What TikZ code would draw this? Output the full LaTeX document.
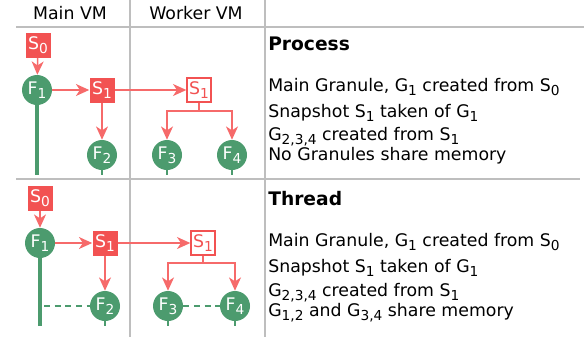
\documentclass[tikz,border=0pt]{standalone}
\usepackage{fontspec}
\setmainfont{DejaVu Sans}
\usetikzlibrary{arrows.meta}
\definecolor{snapred}{RGB}{242,82,82}
\definecolor{linkred}{RGB}{246,106,106}
\definecolor{gran}{RGB}{76,155,110}
\definecolor{rulegray}{RGB}{190,190,190}
% lowered subscript in the running text font
\newcommand\lo[1]{\raisebox{-0.45ex}{\fontsize{10.3}{10}\selectfont #1}}

\begin{document}
\begin{tikzpicture}[x=0.75pt,y=-0.75pt,
  font=\fontsize{13}{16}\selectfont,
  snapbox/.style={fill=snapred, text=white, minimum size=18.75pt, inner sep=0pt},
  snapout/.style={draw=snapred, line width=1.5pt, fill=white, text=snapred,
                  minimum size=17.5pt, inner sep=0pt},
  gnode/.style={circle, fill=gran, text=white, minimum size=22.5pt, inner sep=0pt},
  link/.style={draw=linkred, line width=1.1pt,
               -{Stealth[length=10pt,width=9pt,inset=3pt]}},
  wire/.style={draw=linkred, line width=1.1pt},
  trunk/.style={draw=gran, line width=3pt},
  stub/.style={draw=gran, line width=2.2pt},
  shared/.style={draw=gran, line width=1.6pt, dash pattern=on 4.5pt off 3.5pt},
  grid/.style={draw=rulegray, line width=1.1pt},
  txt/.style={anchor=base west, inner sep=0pt},
  head/.style={anchor=base, inner sep=0pt},
  title/.style={txt, font=\fontsize{14}{16}\selectfont\bfseries},
]
\useasboundingbox (0,0) rectangle (584,337);

% table rules
\draw[grid] (130,0) -- (130,337);
\draw[grid] (265,0) -- (265,337);
\draw[grid] (16,27) -- (584,27);
\draw[grid] (16,179) -- (580,179);

% column headers
\node[head] (hmain) at (70,19) {Main VM};
\node[head] (hwork) at (196,19) {Worker VM};

% ---------------- process model ----------------
\node[snapbox] (ps0) at (38,45) {S\lo{0}};
\node[gnode]   (pf1) at (37,90) {F\lo{1}};
\node[snapbox] (ps1) at (102,90) {S\lo{1}};
\node[gnode]   (pf2) at (102,155) {F\lo{2}};
\node[snapout] (pw1) at (199,90) {S\lo{1}};
\node[gnode]   (pf3) at (167,155) {F\lo{3}};
\node[gnode]   (pf4) at (232,155) {F\lo{4}};
\coordinate (pend1) at (37,175);
\coordinate (pend2) at (102,175);
\coordinate (pend3) at (167,175);
\coordinate (pend4) at (232,175);
\coordinate (pfork) at (199,111);

\draw[trunk] (pf1.south) -- (pend1);
\draw[stub] (pf2.south) -- (pend2);
\draw[stub] (pf3.south) -- (pend3);
\draw[stub] (pf4.south) -- (pend4);
\draw[link] (ps0) -- (pf1);
\draw[link] (pf1) -- (ps1);
\draw[link] (ps1) -- (pf2);
\draw[link] (ps1) -- (pw1);
\draw[wire] (pw1.south) -- (pfork);
\draw[link] (pfork) -| (pf3.north);
\draw[link] (pfork) -| (pf4.north);

\node[title] (ptitle) at (268,50) {Process};
\node[txt] (pl1) at (268,91) {Main Granule, G\lo{1} created from S\lo{0}};
\node[txt] (pl2) at (268,117) {Snapshot S\lo{1} taken of G\lo{1}};
\node[txt] (pl3) at (268,140) {G\lo{2,3,4} created from S\lo{1}};
\node[txt] (pl4) at (268,160) {No Granules share memory};

% ---------------- thread model ----------------
\node[snapbox] (ts0) at (40,198) {S\lo{0}};
\node[gnode]   (tf1) at (40,243) {F\lo{1}};
\node[snapbox] (ts1) at (105,243) {S\lo{1}};
\node[gnode]   (tf2) at (105,306) {F\lo{2}};
\node[snapout] (tw1) at (203,243) {S\lo{1}};
\node[gnode]   (tf3) at (168,306) {F\lo{3}};
\node[gnode]   (tf4) at (235,306) {F\lo{4}};
\coordinate (tend1) at (40,326);
\coordinate (tend2) at (105,326);
\coordinate (tend3) at (168,326);
\coordinate (tend4) at (235,326);
\coordinate (tfork) at (203,263);
\coordinate (tshare) at (44,306);

\draw[trunk] (tf1.south) -- (tend1);
\draw[stub] (tf2.south) -- (tend2);
\draw[stub] (tf3.south) -- (tend3);
\draw[stub] (tf4.south) -- (tend4);
\draw[shared] (tshare) -- (tf2.west);
\draw[shared] (tf3.east) -- (tf4.west);
\draw[link] (ts0) -- (tf1);
\draw[link] (tf1) -- (ts1);
\draw[link] (ts1) -- (tf2);
\draw[link] (ts1) -- (tw1);
\draw[wire] (tw1.south) -- (tfork);
\draw[link] (tfork) -| (tf3.north);
\draw[link] (tfork) -| (tf4.north);

\node[title] (ttitle) at (268,205) {Thread};
\node[txt] (tl1) at (268,246) {Main Granule, G\lo{1} created from S\lo{0}};
\node[txt] (tl2) at (268,272) {Snapshot S\lo{1} taken of G\lo{1}};
\node[txt] (tl3) at (268,296) {G\lo{2,3,4} created from S\lo{1}};
\node[txt] (tl4) at (268,316) {G\lo{1,2} and G\lo{3,4} share memory};
\end{tikzpicture}
\end{document}
